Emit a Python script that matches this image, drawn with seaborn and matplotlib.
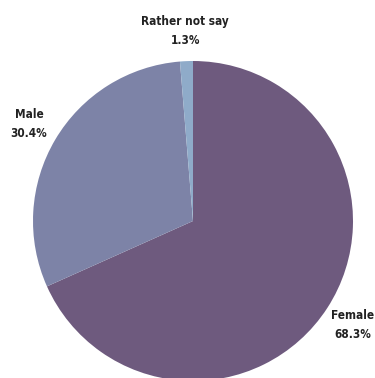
import matplotlib
matplotlib.use("Agg")
import matplotlib.pyplot as plt
import seaborn as sns

categories = ["Female", "Male", "Rather not say"]
values = [68.3, 30.4, 1.3]
colors = ["#6e5a7e", "#7d83a7", "#8fabc9"]

sns.set_theme(style="white")
plt.rcParams['font.family'] = ['DejaVu Sans']

fig = plt.figure(figsize=(3.75, 3.78), dpi=100)
ax = fig.add_axes([0, 0, 1, 1])
labels = [f"{c}\n{v}%" for c, v in zip(categories, values)]
wedges, texts = ax.pie(values, labels=labels, colors=colors, startangle=90,
                       counterclock=False, labeldistance=1.19, radius=1.0,
                       wedgeprops=dict(linewidth=0),
                       textprops=dict(fontsize=8.5, fontweight='bold',
                                      fontstretch='condensed', color='#222222'))
for t in texts:
    t.set_ha('center')
    t.set_va('center')
    t.set_linespacing(1.6)
r = 160.0
ax.set_xlim(-193 / r, (375 - 193) / r)
ax.set_ylim(-(378 - 221) / r, 221 / r)
ax.set_aspect('equal')
ax.axis('off')
fig.savefig("out.png", dpi=100)
